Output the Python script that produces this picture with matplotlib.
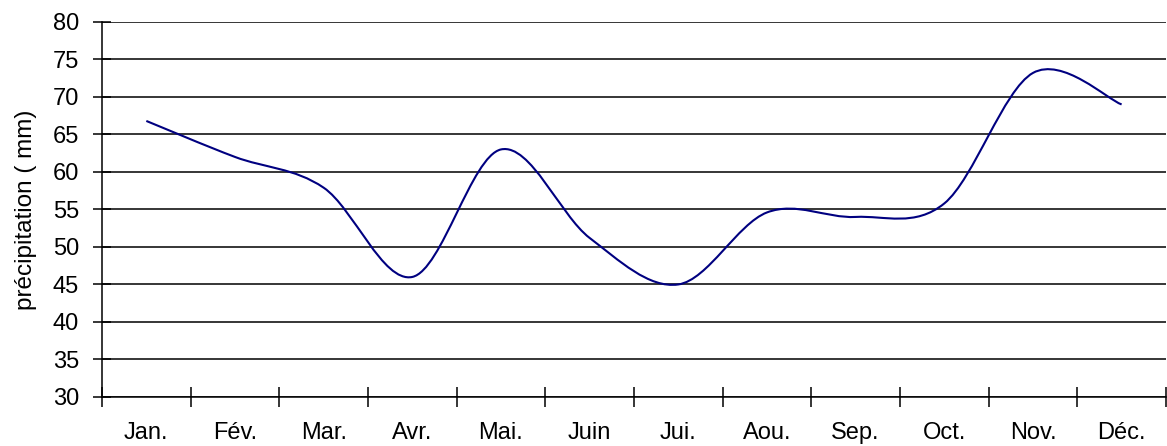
import numpy as np
import matplotlib
matplotlib.use("Agg")
import matplotlib.pyplot as plt
from matplotlib.path import Path
from matplotlib.patches import PathPatch

# Monthly precipitation (mm)
months = ['Jan.', 'Fév.', 'Mar.', 'Avr.', 'Mai.', 'Juin', 'Jui.', 'Aou.', 'Sep.', 'Oct.', 'Nov.', 'Déc.']
precip = [66.8, 62.0, 57.9, 46.0, 63.0, 51.2, 45.0, 54.6, 54.0, 55.8, 73.2, 69.0]

plt.rcParams['font.family'] = ['Liberation Sans', 'DejaVu Sans']

fig = plt.figure(figsize=(11.67, 4.46), dpi=100)
ax = fig.add_axes([0.0874, 0.110, 0.9117, 0.8408])

# smoothed line: cubic bezier segments through each monthly value
x = np.arange(len(precip), dtype=float)
y = np.array(precip, dtype=float)
pts = np.column_stack([x, y])
ext = np.vstack([pts[0], pts, pts[-1]])
verts = [pts[0]]
codes = [Path.MOVETO]
for i in range(len(pts) - 1):
    p0, p1, p2, p3 = ext[i], ext[i + 1], ext[i + 2], ext[i + 3]
    c1 = p1 + (p2 - p0) / 6.0
    c2 = p2 - (p3 - p1) / 6.0
    verts += [c1, c2, p2]
    codes += [Path.CURVE4] * 3
ax.add_patch(PathPatch(Path(verts, codes), facecolor='none', edgecolor='#000080',
                       linewidth=1.5, zorder=3, clip_on=False))

ax.set_xlim(-0.5, len(months) - 0.5)
ax.set_ylim(30, 80)

ax.set_xticks(np.arange(-0.5, len(months), 1.0))
ax.set_xticklabels([])
ax.set_xticks(x, minor=True)
ax.set_xticklabels(months, minor=True)
ax.set_yticks(np.arange(30, 81, 5))

ax.tick_params(axis='x', which='major', direction='inout', length=14, width=1.1, color='black')
ax.tick_params(axis='x', which='minor', length=0, pad=18, labelsize=17)
ax.tick_params(axis='y', direction='inout', length=13, width=1.1, pad=10, labelsize=17)

ax.grid(axis='y', color='black', linewidth=1.1, zorder=1)
ax.set_axisbelow(True)
for side in ['top', 'right']:
    ax.spines[side].set_visible(False)
for side in ['left', 'bottom']:
    ax.spines[side].set_linewidth(1.1)

ax.set_ylabel('précipitation ( mm)', fontsize=17.5, labelpad=11)

fig.savefig('out.png', dpi=100)
